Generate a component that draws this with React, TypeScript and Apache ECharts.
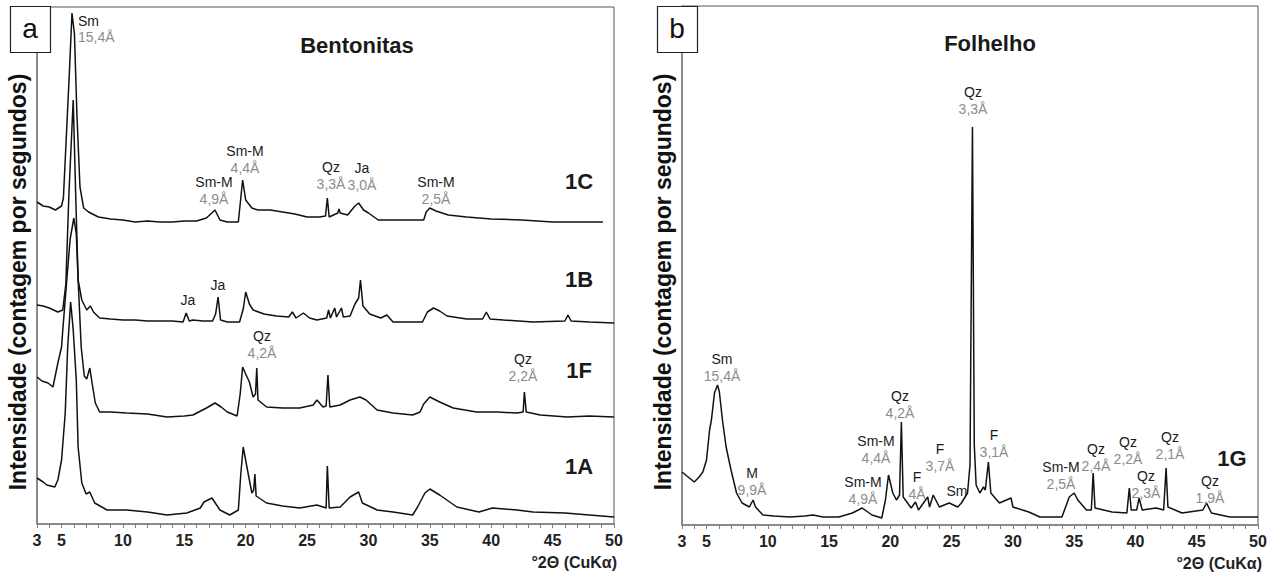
import React, { useEffect, useRef } from 'react';
import * as echarts from 'echarts';

const FONT = '"Liberation Sans", Arial, Helvetica, sans-serif';

// x range (°2θ) and tick labels shown
const xMin = 3;
const xMax = 50;
const xTickLabels = [3, 5, 10, 15, 20, 25, 30, 35, 40, 45, 50];

// Panel a – Bentonitas (stacked patterns, intensity incl. vertical offset)
const sample1C: [number, number][] = [
  [3.0, 322], [3.5, 318], [4.0, 317], [4.5, 314], [5.0, 318], [5.15, 326], [5.4, 390], [5.65, 455], [5.85, 511],
  [6.05, 490], [6.25, 410], [6.5, 337], [6.8, 316], [7.2, 312], [8, 307], [9, 305], [10, 304], [11, 302], [12, 303],
  [13, 302], [14, 302], [15, 303], [16, 303], [16.8, 306], [17.5, 314], [17.9, 304], [18.5, 302], [19.4, 302],
  [19.55, 320], [19.75, 344], [20.0, 324], [20.5, 316], [21.0, 314], [22, 314], [23, 312], [24, 310], [25, 307],
  [26.0, 307], [26.5, 308], [26.65, 326], [26.8, 307], [27.5, 311], [27.6, 315], [27.7, 311], [28.3, 309],
  [28.9, 318], [29.2, 321], [29.6, 314], [30.0, 311], [30.8, 304], [32, 304], [34.5, 304], [34.7, 312], [35.0, 316],
  [35.5, 313], [36.5, 309], [38, 307], [40.0, 305], [42.5, 304], [45, 302], [47, 302], [49.1, 302],
];

const sample1B: [number, number][] = [
  [3.0, 219], [3.5, 218], [4.0, 216], [4.7, 212], [5.1, 214], [5.35, 240], [5.6, 330], [5.95, 424], [6.15, 330],
  [6.35, 244], [6.65, 224], [7.05, 214], [7.35, 218], [7.6, 212], [8.1, 206], [9, 205], [10, 204], [11, 204],
  [12, 203], [13, 203], [14, 203], [14.9, 202], [15.15, 211], [15.4, 203], [15.7, 204], [16.5, 203], [17.3, 203],
  [17.55, 210], [17.75, 227], [17.95, 204], [18.5, 202], [19.5, 202], [19.8, 215], [20.0, 232], [20.3, 220],
  [20.6, 214], [21.5, 210], [22.5, 208], [23.5, 207], [23.8, 212], [24.1, 206], [24.7, 211], [25.2, 206],
  [25.8, 204], [26.6, 206], [26.75, 214], [26.9, 206], [27.25, 216], [27.4, 207], [27.8, 216], [27.95, 207],
  [28.5, 208], [28.9, 220], [29.2, 226], [29.35, 244], [29.55, 218], [30.1, 210], [31, 206], [31.5, 209],
  [32, 202], [33, 202], [34.4, 202], [34.8, 212], [35.3, 216], [35.8, 213], [36.4, 208], [38, 205], [39.3, 205],
  [39.6, 212], [39.9, 205], [41, 204], [43.4, 202], [46, 203], [46.25, 209], [46.5, 203], [48, 202], [50, 201],
];

const sample1F: [number, number][] = [
  [3.0, 147], [3.4, 143], [3.9, 141], [4.3, 137], [4.7, 161], [5.0, 177], [5.1, 194], [5.4, 240], [5.7, 285],
  [6.0, 306], [6.2, 290], [6.35, 244], [6.6, 177], [6.85, 148], [7.05, 145], [7.3, 156], [7.5, 140], [7.75, 121],
  [8.1, 112], [9, 112], [10.3, 111], [12, 110], [13.6, 107], [15, 108], [15.7, 109], [16.8, 116], [17.5, 121],
  [18.0, 117], [18.5, 112], [19.3, 108], [19.55, 130], [19.75, 157], [20.0, 150], [20.3, 142], [20.6, 127],
  [20.8, 130], [20.9, 156], [21.0, 124], [21.7, 117], [23, 116], [24.4, 116], [25.5, 119], [25.8, 124],
  [26.3, 117], [26.55, 118], [26.7, 149], [26.85, 117], [27.7, 119], [28.5, 124], [29.3, 127], [29.8, 124],
  [30.7, 114], [32, 111], [33.6, 109], [34.2, 112], [34.5, 120], [35.0, 127], [35.8, 122], [36.9, 116],
  [38.8, 112], [40.5, 112], [42.1, 111], [42.6, 112], [42.7, 132], [42.85, 112], [44, 109], [46.2, 107],
  [48, 108], [50, 107],
];

const sample1A: [number, number][] = [
  [3.0, 46], [3.5, 42], [3.8, 39], [4.45, 37], [4.7, 44], [5.0, 64], [5.3, 111], [5.5, 177], [5.74, 222],
  [5.95, 194], [6.2, 144], [6.35, 77], [6.65, 41], [7.0, 30], [7.3, 32], [7.7, 21], [8.7, 14], [10.3, 14],
  [12, 12], [13.6, 9], [15.2, 11], [16.3, 16], [16.6, 22], [17.25, 26], [17.9, 14], [18.7, 9], [19.4, 14],
  [19.6, 50], [19.8, 77], [20.1, 57], [20.5, 31], [20.65, 34], [20.75, 50], [20.85, 28], [21.7, 21], [23, 18],
  [24.4, 16], [25.8, 19], [26.55, 16], [26.65, 58], [26.8, 16], [27.7, 17], [28.5, 27], [29.2, 32], [29.5, 21],
  [30.7, 14], [32, 12], [33.6, 9], [34, 17], [34.6, 31], [35.0, 35], [35.8, 29], [37.2, 17], [39, 12],
  [40.1, 16], [42.1, 14], [43.4, 12], [46, 11], [50, 7],
];

// Panel b – Folhelho
const sample1G: [number, number][] = [
  [3.0, 53], [3.6, 47], [4.0, 43], [4.4, 48], [4.7, 53], [5.0, 65], [5.25, 95], [5.4, 105], [5.65, 132],
  [5.9, 140], [6.05, 133], [6.3, 105], [6.6, 78], [7.0, 55], [7.45, 32], [7.9, 22], [8.5, 18], [8.8, 25],
  [9.0, 18], [9.6, 10], [10.5, 9], [11.8, 8], [13.0, 9], [13.7, 10], [14.5, 8], [15.8, 8], [16.9, 12],
  [17.7, 17], [18.5, 10], [19.3, 7], [19.6, 25], [19.85, 50], [20.2, 32], [20.5, 25], [20.75, 30], [20.9, 103],
  [21.05, 28], [21.7, 17], [22.05, 23], [22.3, 15], [23.05, 28], [23.2, 18], [23.5, 30], [24.0, 18], [24.8, 22],
  [25.5, 18], [25.8, 22], [26.3, 32], [26.5, 60], [26.7, 398], [26.85, 80], [27.0, 40], [27.3, 32], [27.6, 38],
  [27.75, 35], [28.0, 63], [28.2, 32], [28.9, 22], [29.85, 27], [30.0, 18], [31.3, 13], [32.2, 8], [34.0, 8],
  [34.6, 28], [35.0, 32], [35.3, 25], [36.0, 15], [36.4, 15], [36.55, 52], [36.7, 17], [38.1, 13], [39.3, 12],
  [39.5, 37], [39.65, 15], [40.1, 15], [40.3, 27], [40.55, 15], [41.7, 17], [42.3, 15], [42.5, 57], [42.65, 18],
  [43.8, 12], [45.5, 15], [45.8, 22], [46.2, 12], [47.7, 8], [50, 8],
];

const yMaxA = 517;
const yMaxB = 519;

// annotations: [mineral, d-spacing, centre x, centre y (mineral line)]
const annotationsA: [string, string, number, number][] = [
  ['Sm-M', '4,4Å', 245, 151],
  ['Sm-M', '4,9Å', 214, 182],
  ['Qz', '3,3Å', 331, 167],
  ['Ja', '3,0Å', 362, 168],
  ['Sm-M', '2,5Å', 436, 182],
  ['Ja', '', 188, 300],
  ['Ja', '', 218, 285],
  ['Qz', '4,2Å', 262, 336],
  ['Qz', '2,2Å', 523, 359],
];
const annotationsB: [string, string, number, number][] = [
  ['Qz', '3,3Å', 973, 92],
  ['Sm', '15,4Å', 722, 359],
  ['M', '9,9Å', 752, 473],
  ['Sm-M', '4,9Å', 863, 482],
  ['Sm-M', '4,4Å', 876, 441],
  ['Qz', '4,2Å', 900, 396],
  ['F', '4Å', 917, 477],
  ['F', '3,7Å', 940, 449],
  ['Sm', '', 957, 491],
  ['F', '3,1Å', 994, 435],
  ['Sm-M', '2,5Å', 1061, 467],
  ['Qz', '2,4Å', 1096, 449],
  ['Qz', '2,2Å', 1128, 442],
  ['Qz', '2,3Å', 1146, 476],
  ['Qz', '2,1Å', 1170, 437],
  ['Qz', '1,9Å', 1210, 481],
];
const sampleNamesA: [string, number, number][] = [
  ['1C', 579, 181], ['1B', 579, 279], ['1F', 579, 370], ['1A', 579, 466],
];
const sampleNamesB: [string, number, number][] = [['1G', 1232, 458]];

const BLACK = '#1a1a1a';
const GREY = '#8c8c8c';

function txt(text: string, x: number, y: number, font: string, fill: string, align = 'center', extra: any = {}) {
  return {
    type: 'text', x, y, z: 20, ...extra,
    style: { text, font, fill, align, verticalAlign: 'middle', textAlign: align, textVerticalAlign: 'middle' },
  };
}

function buildGraphics() {
  const g: any[] = [];
  const small = `14px ${FONT}`;
  for (const [m, d, x, y] of [...annotationsA, ...annotationsB]) {
    g.push(txt(m, x, y, small, BLACK));
    if (d) g.push(txt(d, x, y + 17, small, GREY));
  }
  g.push(txt('Sm', 78, 21, small, BLACK, 'left'));
  g.push(txt('15,4Å', 78, 37, small, GREY, 'left'));
  for (const [n, x, y] of [...sampleNamesA, ...sampleNamesB]) {
    g.push(txt(n, x, y, `bold 22px ${FONT}`, BLACK));
  }
  g.push(txt('Bentonitas', 357, 45, `bold 22px ${FONT}`, BLACK));
  g.push(txt('Folhelho', 990, 43, `bold 22px ${FONT}`, BLACK));
  g.push(txt('°2Θ (CuKα)', 617, 562, `bold 16px ${FONT}`, '#222', 'right'));
  g.push(txt('°2Θ (CuKα)', 1262, 563, `bold 16px ${FONT}`, '#222', 'right'));
  const yTitle = 'Intensidade (contagem por segundos)';
  g.push(txt(yTitle, 18, 282, `bold 23px ${FONT}`, '#111', 'center', { rotation: Math.PI / 2 }));
  g.push(txt(yTitle, 663, 282, `bold 23px ${FONT}`, '#111', 'center', { rotation: Math.PI / 2 }));
  // panel letter boxes
  g.push({ type: 'rect', z: 30, shape: { x: 10.5, y: 6.5, width: 40, height: 46 }, style: { fill: '#fff', stroke: '#222', lineWidth: 1.2 } });
  g.push({ type: 'rect', z: 30, shape: { x: 657.5, y: 6.5, width: 40, height: 46 }, style: { fill: '#fff', stroke: '#222', lineWidth: 1.2 } });
  g.push(txt('a', 30, 28, `28px ${FONT}`, '#111', 'center', { z: 31 }));
  g.push(txt('b', 677, 28, `28px ${FONT}`, '#111', 'center', { z: 31 }));
  return g;
}

function xAxis(gridIndex: number) {
  return {
    type: 'value', gridIndex, min: xMin, max: xMax, interval: 1,
    axisLine: { show: true, lineStyle: { color: '#808080', width: 1.5 } },
    axisTick: { show: true, length: 4, lineStyle: { color: '#808080', width: 1 } },
    splitLine: { show: false },
    axisLabel: {
      show: true, margin: 8, fontFamily: FONT, fontWeight: 'bold', fontSize: 16, color: '#222',
      showMinLabel: true, showMaxLabel: true, hideOverlap: false,
      formatter: (v: number) => (xTickLabels.includes(v) ? String(v) : ''),
    },
  };
}

function yAxis(gridIndex: number, max: number) {
  return {
    type: 'value', gridIndex, min: 0, max,
    axisLine: { show: true, lineStyle: { color: '#808080', width: 1.5 } },
    axisTick: { show: false }, axisLabel: { show: false }, splitLine: { show: false },
  };
}

function line(data: [number, number][], idx: number, name: string) {
  return {
    type: 'line', name, xAxisIndex: idx, yAxisIndex: idx, data, showSymbol: false, symbol: 'none',
    lineStyle: { color: '#111', width: 1.5 }, z: 5, clip: true,
  };
}

export default function App() {
  const ref = useRef<HTMLDivElement>(null);
  useEffect(() => {
    const chart = echarts.init(ref.current!, null, { renderer: 'svg' });
    chart.setOption({
      animation: false,
      backgroundColor: '#fff',
      grid: [
        { left: 37, top: 7, width: 577, height: 517, show: true, borderColor: '#555', borderWidth: 1, containLabel: false, outerBoundsMode: 'none' },
        { left: 682, top: 6, width: 576, height: 519, show: true, borderColor: '#555', borderWidth: 1, containLabel: false, outerBoundsMode: 'none' },
      ],
      xAxis: [xAxis(0), xAxis(1)],
      yAxis: [yAxis(0, yMaxA), yAxis(1, yMaxB)],
      series: [
        line(sample1C, 0, '1C'),
        line(sample1B, 0, '1B'),
        line(sample1F, 0, '1F'),
        line(sample1A, 0, '1A'),
        line(sample1G, 1, '1G'),
      ],
      graphic: buildGraphics(),
    });
    return () => chart.dispose();
  }, []);
  return (
    <div
      ref={ref}
      style={{ position: 'absolute', left: 0, top: 0, width: 1279, height: 574, background: '#fff' }}
    />
  );
}
